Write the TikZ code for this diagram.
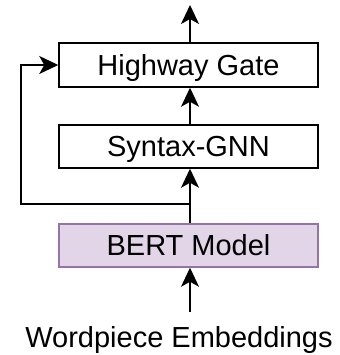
\documentclass[tikz,border=0pt]{standalone}
\usepackage{fontspec}
\setmainfont{Liberation Sans}
\usetikzlibrary{arrows.meta}
\definecolor{bertfill}{HTML}{E1D5E7}
\definecolor{bertdraw}{HTML}{9673A6}
\tikzset{
  block/.style={draw=black, line width=1.5pt, minimum width=259pt, minimum height=43pt,
    inner sep=0pt, font=\fontsize{29}{34}\selectfont, text height=20.8pt, text depth=0pt},
  flow/.style={line width=1.6pt, -{Stealth[length=19pt, width=18pt, inset=5pt]}},
  wire/.style={line width=1.6pt}
}
\begin{document}
\begin{tikzpicture}[x=1pt, y=1pt]
  \useasboundingbox (0,0) rectangle (339,355);
  % processing blocks, bottom to top
  \node[block, fill=bertfill, draw=bertdraw] (bert) at (188.5,109.5) {BERT Model};
  \node[block] (gnn) at (188.5,208.5) {Syntax-GNN};
  \node[block, minimum height=44pt] (gate) at (188.5,290) {Highway Gate};
  \node[font=\fontsize{29}{34}\selectfont, anchor=base, inner sep=0pt] (emb) at (179,7) {Wordpiece Embeddings};
  % helper points for the arrows and the skip connection
  \coordinate (embtop) at (190,43);
  \coordinate (out) at (190,350);
  \coordinate (split) at (190,151);
  \coordinate (corner1) at (21,151);
  \coordinate (corner2) at (21,290);
  % main flow
  \draw[flow] (embtop) -- (bert.south -| embtop);
  \draw[flow] (bert.north -| embtop) -- (gnn.south -| embtop);
  \draw[flow] (gnn.north -| embtop) -- (gate.south -| embtop);
  \draw[flow] (gate.north -| embtop) -- (out);
  % skip connection from BERT output to the gate
  \draw[wire] (split) -- (corner1) -- (corner2);
  \draw[flow] ([xshift=-0.75pt]corner2) -- (gate.west);
\end{tikzpicture}
\end{document}
